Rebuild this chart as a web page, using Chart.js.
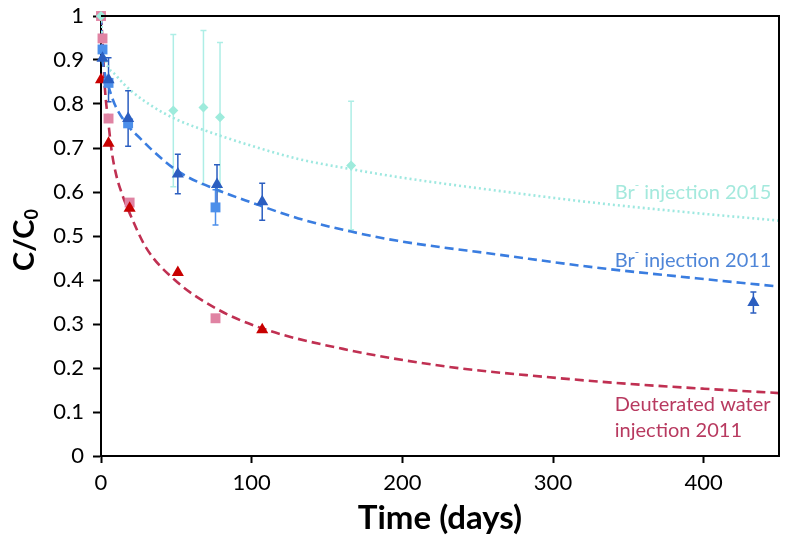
<!DOCTYPE html>
<html>
<head>
<meta charset="utf-8">
<script src="https://cdn.jsdelivr.net/npm/chart.js@4.4.1/dist/chart.umd.min.js"></script>
<style>
  html, body { margin: 0; padding: 0; background: #fff; }
  #wrap { width: 786px; height: 540px; position: relative; }
</style>
</head>
<body>
<div id="wrap"><canvas id="tracer-chart" width="786" height="540"></canvas></div>
<script>
// measured points (days, C/C0, +/- error)
const br2015Days = [0, 48, 68, 79, 166];
const br2015Vals = [1.0, 0.785, 0.792, 0.770, 0.660];
const br2015Err = [0, 0.173, 0.175, 0.17, 0.146];

const br2011TriDays = [1, 5, 18, 51, 77, 107, 433];
const br2011TriVals = [0.904, 0.855, 0.767, 0.641, 0.617, 0.578, 0.349];
const br2011TriErr = [0, 0.05, 0.063, 0.045, 0.045, 0.042, 0.024];

const br2011SqDays = [1, 5, 18, 76];
const br2011SqVals = [0.924, 0.848, 0.756, 0.565];
const br2011SqErr = [0, 0, 0, 0.04];

const d2oTriDays = [0, 5, 19, 51, 107];
const d2oTriVals = [0.855, 0.711, 0.563, 0.417, 0.287];

const d2oSqDays = [0, 1, 5, 19, 76];
const d2oSqVals = [1.0, 0.949, 0.767, 0.576, 0.313];

// fitted curves
const br2015FitDays = [0, 1, 3, 10, 20, 34, 50, 74, 100, 131, 166, 197, 263, 329, 395, 450];
const br2015FitVals = [1, 0.94, 0.9, 0.865, 0.83, 0.795, 0.765, 0.734, 0.705, 0.675, 0.652, 0.634, 0.603, 0.575, 0.552, 0.535];

const br2011FitDays = [0, 0.5, 2, 5, 9, 18, 26, 34, 52, 77, 100, 131, 166, 197, 263, 329, 395, 450];
const br2011FitVals = [1, 0.93, 0.88, 0.84, 0.80, 0.75, 0.722, 0.695, 0.645, 0.605, 0.576, 0.54, 0.51, 0.489, 0.458, 0.428, 0.404, 0.385];

const d2oFitDays = [0, 1, 2.5, 5, 7, 10, 14, 19, 30, 49, 76, 107, 164, 230, 294, 350, 400, 450];
const d2oFitVals = [1, 0.945, 0.84, 0.755, 0.695, 0.64, 0.595, 0.552, 0.473, 0.40, 0.336, 0.29, 0.241, 0.203, 0.18, 0.164, 0.153, 0.143];

const xTicks = [0, 100, 200, 300, 400];

function start() {
    function pts(xs, ys) {
        return xs.map((x, i) => ({ x: x, y: ys[i] }));
    }

    function curve(xs, ys, color, dash) {
        return {
            type: 'line',
            data: pts(xs, ys),
            borderColor: color,
            borderWidth: 2.6,
            borderDash: dash,
            pointRadius: 0,
            cubicInterpolationMode: 'monotone',
            fill: false,
            order: 10
        };
    }

    function marks(xs, ys, color, style, radius, errs, errColor) {
        return {
            type: 'scatter',
            data: pts(xs, ys),
            backgroundColor: color,
            borderColor: color,
            borderWidth: 0,
            pointStyle: style,
            pointRadius: radius,
            clip: false,
            errors: errs,
            errorColor: errColor,
            order: 1
        };
    }

    // error bars, frame and the text labels
    const extras = {
        id: 'extras',
        beforeDatasetsDraw(chart) {
            const ctx = chart.ctx;
            const xs = chart.scales.x, ys = chart.scales.y;
            chart.data.datasets.forEach((ds) => {
                if (!ds.errors) return;
                ctx.save();
                ctx.strokeStyle = ds.errorColor;
                ctx.lineWidth = 1.5;
                ds.data.forEach((p, i) => {
                    const e = ds.errors[i];
                    if (!e) return;
                    const px = xs.getPixelForValue(p.x);
                    const top = ys.getPixelForValue(p.y + e);
                    const bot = ys.getPixelForValue(p.y - e);
                    ctx.beginPath();
                    ctx.moveTo(px, top); ctx.lineTo(px, bot);
                    ctx.moveTo(px - 3, top); ctx.lineTo(px + 3, top);
                    ctx.moveTo(px - 3, bot); ctx.lineTo(px + 3, bot);
                    ctx.stroke();
                });
                ctx.restore();
            });
        },
        afterDraw(chart) {
            const ctx = chart.ctx;
            const a = chart.chartArea;
            const xs = chart.scales.x, ys = chart.scales.y;
            ctx.save();
            ctx.strokeStyle = '#000';
            ctx.lineWidth = 2;
            ctx.beginPath();
            ctx.moveTo(a.left, a.top); ctx.lineTo(a.right, a.top); ctx.lineTo(a.right, a.bottom);
            ctx.stroke();

            // y title C/C0
            ctx.translate(34, 240);
            ctx.rotate(-Math.PI / 2);
            ctx.fillStyle = '#000';
            ctx.textBaseline = 'alphabetic';
            const main = 'C/C';
            ctx.font = 'bold 29px Lato';
            const w1 = ctx.measureText(main).width;
            ctx.font = 'bold 18px Lato';
            const w2 = ctx.measureText('0').width;
            const x0 = -(w1 + w2) / 2;
            ctx.font = 'bold 29px Lato';
            ctx.textAlign = 'left';
            ctx.fillText(main, x0, 0);
            ctx.font = 'bold 18px Lato';
            ctx.fillText('0', x0 + w1, 4);
            ctx.restore();

            // curve labels
            function brLabel(year, color, yVal) {
                ctx.save();
                ctx.fillStyle = color;
                ctx.textBaseline = 'middle';
                ctx.textAlign = 'left';
                ctx.font = '20px Lato';
                const rest = ' injection ' + year;
                const wBr = ctx.measureText('Br').width;
                const wRest = ctx.measureText(rest).width;
                ctx.font = '12px Lato';
                const wMin = ctx.measureText('-').width;
                const right = xs.getPixelForValue(445);
                const x0 = right - (wBr + wMin + wRest);
                const y = ys.getPixelForValue(yVal);
                ctx.font = '20px Lato';
                ctx.fillText('Br', x0, y);
                ctx.font = '12px Lato';
                ctx.fillText('-', x0 + wBr, y - 8);
                ctx.font = '20px Lato';
                ctx.fillText(rest, x0 + wBr + wMin, y);
                ctx.restore();
            }
            brLabel('2015', '#a4e9dd', 0.598);
            brLabel('2011', '#4f86d8', 0.445);

            ctx.save();
            ctx.fillStyle = '#b83a60';
            ctx.font = '20px Lato';
            ctx.textBaseline = 'middle';
            ctx.textAlign = 'left';
            const lx = xs.getPixelForValue(341);
            ctx.fillText('Deuterated water', lx, ys.getPixelForValue(0.116));
            ctx.fillText('injection 2011', lx, ys.getPixelForValue(0.057));
            ctx.restore();
        }
    };

    const ctx = document.getElementById('tracer-chart').getContext('2d');
    const chart = new Chart(ctx, {
        data: {
            datasets: [
                marks(br2015Days, br2015Vals, '#9eebdc', 'rectRot', 5, br2015Err, '#aeeee6'),
                marks(br2011TriDays, br2011TriVals, '#2b5ec0', 'triangle', 7, br2011TriErr, '#2b5ec0'),
                marks(br2011SqDays, br2011SqVals, '#4c8fea', 'rect', 7, br2011SqErr, '#4c8fea'),
                marks(d2oTriDays, d2oTriVals, '#c80000', 'triangle', 7, null, null),
                marks(d2oSqDays, d2oSqVals, '#e083a3', 'rect', 7, null, null),
                curve(br2015FitDays, br2015FitVals, '#9ee8e0', [2, 3]),
                curve(br2011FitDays, br2011FitVals, '#3a7de0', [9, 5]),
                curve(d2oFitDays, d2oFitVals, '#c03052', [9, 5])
            ]
        },
        options: {
            responsive: false,
            animation: false,
            layout: { padding: { left: 0, right: 1, top: 16, bottom: 0 } },
            plugins: {
                legend: { display: false },
                tooltip: { enabled: false }
            },
            scales: {
                x: {
                    type: 'linear',
                    min: 0,
                    max: 450,
                    afterBuildTicks: (axis) => { axis.ticks = xTicks.map(v => ({ value: v })); },
                    afterFit: (axis) => { axis.height = 84; axis.paddingLeft = 0; axis.paddingRight = 0; },
                    grid: { drawOnChartArea: false, drawTicks: true, tickLength: 7, color: '#000', tickWidth: 2 },
                    border: { display: true, color: '#000', width: 2 },
                    ticks: { color: '#000', font: { family: 'Lato', size: 22 }, padding: 7, maxRotation: 0 },
                    title: { display: true, text: 'Time (days)', color: '#000', font: { family: 'Lato', size: 33, weight: 'bold' }, padding: { top: 0, bottom: 2 } }
                },
                y: {
                    type: 'linear',
                    min: 0,
                    max: 1,
                    ticks: {
                        stepSize: 0.1, color: '#000', font: { family: 'Lato', size: 22 }, padding: 9,
                        callback: (v) => String(Math.round(v * 10) / 10)
                    },
                    afterFit: (axis) => { axis.width = 101; axis.paddingTop = 0; axis.paddingBottom = 0; },
                    grid: { drawOnChartArea: false, drawTicks: true, tickLength: 8, color: '#000', tickWidth: 2 },
                    border: { display: true, color: '#000', width: 2 }
                }
            }
        },
        plugins: [extras]
    });
}

window.addEventListener('load', start, false);
</script>
</body>
</html>
